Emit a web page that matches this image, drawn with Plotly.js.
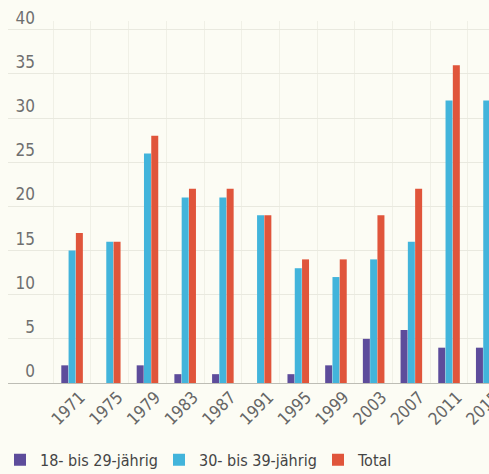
<!DOCTYPE html>
<html>
<head>
<meta charset="utf-8">
<script src="https://cdn.plot.ly/plotly-3.0.1.min.js"></script>
<style>
html,body{margin:0;padding:0;background:#fcfcf4;}
#chart{width:489px;height:474px;}
</style>
</head>
<body>
<div id="chart"></div>
<script>
const years = ["1971","1975","1979","1983","1987","1991","1995","1999","2003","2007","2011","2015"];
const age18to29 = [2, 0, 2, 1, 1, 0, 1, 2, 5, 6, 4, 4];
const age30to39 = [15, 16, 26, 21, 21, 19, 13, 12, 14, 16, 32, 32];
const total = [17, 16, 28, 22, 22, 19, 14, 14, 19, 22, 36, 36];
const seriesNames = ["18- bis 29-jährig", "30- bis 39-jährig", "Total"];
const yTicks = [0, 5, 10, 15, 20, 25, 30, 35, 40];

const FONT = '"Liberation Sans Narrow", "DejaVu Sans Condensed", "Arial Narrow", sans-serif';

const traces = [
  {type:'bar', name: seriesNames[0], x: years, y: age18to29, marker:{color:'#5d4c9b'}},
  {type:'bar', name: seriesNames[1], x: years, y: age30to39, marker:{color:'#42b4db'}},
  {type:'bar', name: seriesNames[2], x: years, y: total, marker:{color:'#e0553b'}}
];

const layout = {
  width: 489, height: 474,
  margin: {l: 8, r: 0, t: 21, b: 91, pad: 0, autoexpand: false},
  paper_bgcolor: '#fcfcf4',
  plot_bgcolor: '#fcfcf4',
  barmode: 'group',
  bargap: 0.42,
  bargroupgap: 0.04,
  font: {family: FONT, color: '#666', size: 17},
  xaxis: {
    type: 'category',
    range: [-1.70, 11.06],
    tickangle: -45,
    tickson: 'boundaries',
    ticks: '',
    ticklabelshift: 8,
    showgrid: true,
    gridcolor: '#f0f0e6',
    gridwidth: 1,
    showline: false,
    zeroline: false,
    automargin: false,
    tickfont: {family: FONT, size: 17, color: '#666'}
  },
  yaxis: {
    range: [0, 41],
    tickvals: yTicks,
    ticktext: yTicks.map(String),
    anchor: 'free',
    position: 0.056,
    ticklabelposition: 'outside top',
    ticks: '',
    showgrid: true,
    gridcolor: '#e9e9df',
    gridwidth: 1,
    zeroline: true,
    zerolinecolor: '#bdbdb5',
    zerolinewidth: 1,
    showline: false,
    automargin: false,
    tickfont: {family: FONT, size: 17, color: '#6f6f6f'}
  },
  legend: {
    orientation: 'h',
    xref: 'container', yref: 'container',
    x: 0.0, xanchor: 'left',
    y: 0.03, yanchor: 'middle',
    entrywidth: 114,
    entrywidthmode: 'pixels',
    font: {family: FONT, size: 16, color: '#444'},
    bgcolor: 'rgba(0,0,0,0)',
    traceorder: 'normal'
  },
  showlegend: true
};

Plotly.newPlot('chart', traces, layout, {displayModeBar: false, staticPlot: true});
</script>
</body>
</html>
